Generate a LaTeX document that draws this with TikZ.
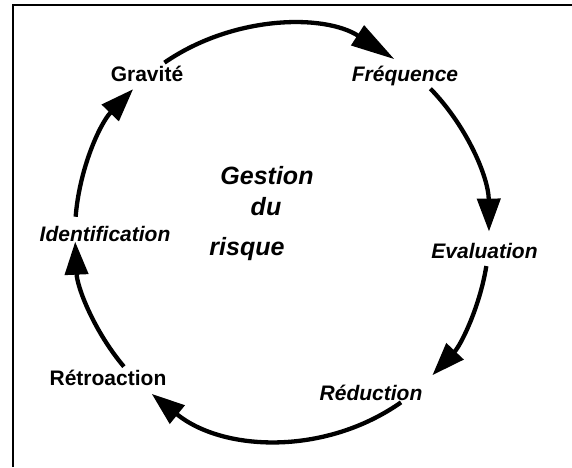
\documentclass[tikz,border=0pt]{standalone}
\usepackage{fontspec}
\setmainfont{Liberation Sans}
\usetikzlibrary{arrows.meta,calc}
\begin{document}
\begin{tikzpicture}[x=1pt,y=1pt,
  lab/.style={font=\fontsize{21}{21}\selectfont\bfseries, inner sep=0pt, anchor=base},
  itl/.style={lab, font=\fontsize{21}{21}\selectfont\bfseries\itshape},
  big/.style={lab, font=\fontsize{25}{25}\selectfont\bfseries\itshape},
  cyc/.style={line width=4.3pt, -{Triangle[length=33pt,width=23pt]}},
  cyclong/.style={line width=4.3pt, -{Triangle[length=44pt,width=23pt]}},
  frame/.style={line width=2.4pt}]
\useasboundingbox (0,0) rectangle (572,467);
\coordinate (fa) at (12.8,0);
\coordinate (fb) at (12.8,461.8);
\coordinate (fc) at (574,461.8);
\draw[frame] (fa) -- (fb) -- (fc);
% labels
\node[lab] (grav)  at (147,386)   {Gravité};
\node[itl] (freq)  at (405,386)   {Fréquence};
\node[itl] (eval)  at (484.5,209) {Evaluation};
\node[itl] (red)   at (371,67)    {Réduction};
\node[lab] (retro) at (108,82)    {Rétroaction};
\node[itl] (ident) at (105,226)   {Identification};
\node[big] (g1) at (267,283) {Gestion};
\node[big] (g2) at (266,252) {du};
\node[big] (g3) at (247,212) {risque};
% cycle
\coordinate (C) at (282,234);
\coordinate (a1) at ($(C)+(124.6:207)$);
\coordinate (a2) at ($(C)+(44.2:207)$);
\coordinate (a3) at ($(C)+(-9.2:207)$);
\coordinate (a4) at ($(C)+(-54.9:207)$);
\coordinate (a5) at ($(C)+(220.2:207)$);
\coordinate (a6) at ($(C)+(175.5:207)$);
\draw[cyclong] (a1) arc[start angle=124.6, end angle=57.1, radius=207];
\draw[cyc] (a2) arc[start angle=44.2, end angle=0.4, radius=207];
\draw[cyc] (a3) arc[start angle=-9.2, end angle=-43.4, radius=207];
\draw[cyc] (a4) arc[start angle=-54.9, end angle=-129, radius=207];
\draw[cyc] (a5) arc[start angle=220.2, end angle=182.4, radius=207];
\draw[cyc] (a6) arc[start angle=175.5, end angle=136, radius=207];
\end{tikzpicture}
\end{document}
